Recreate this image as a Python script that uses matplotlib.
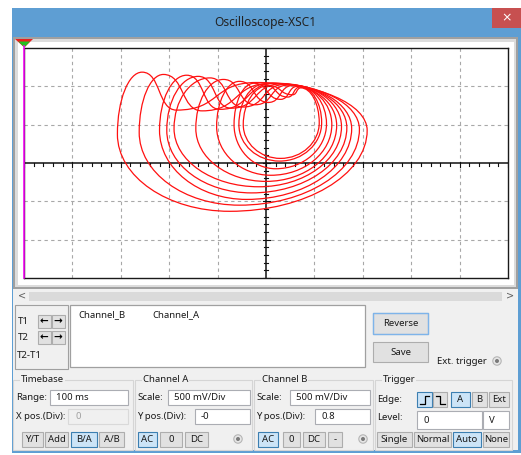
import numpy as np
import matplotlib
matplotlib.use("Agg")
import matplotlib.pyplot as plt
from matplotlib.patches import Rectangle, Polygon, Circle, PathPatch
from matplotlib.path import Path

plt.rcParams['font.family'] = ['Noto Sans', 'DejaVu Sans']

# ---- B/A trace: one row per loop of the phase portrait (units: divisions) ----
left_x   = [-3.07, -2.62, -2.20, -2.05, -1.90, -1.45, -1.02, -0.66, -0.56, -0.47]
left_y   = [0.75, 0.80, 0.85, 0.85, 0.90, 0.90, 0.95, 1.00, 1.00, 1.00]
hump_x   = [-2.56, -2.12, -1.64, -1.40, -1.16, -0.88, -0.55, -0.25, -0.05, 0.05]
hump_y   = [2.37, 2.31, 2.29, 2.26, 2.22, 2.18, 2.13, 2.08, 2.05, 2.02]
dip_x    = [-1.85, -1.32, -0.95, -0.72, -0.48, -0.22, 0.05, 0.30, 0.45, 0.55]
dip_y    = [1.38, 1.36, 1.40, 1.43, 1.46, 1.52, 1.58, 1.66, 1.72, 1.78]
top_x    = [-0.20, 0.10, 0.20, 0.30, 0.40, 0.45, 0.55, 0.65, 0.70, 0.72]
top_y    = [2.10, 2.08, 2.08, 2.06, 2.05, 2.03, 2.02, 2.00, 1.98, 1.96]
right_x  = [2.09, 1.93, 1.77, 1.67, 1.56, 1.46, 1.36, 1.25, 1.15, 1.10]
right_y  = [0.85, 0.88, 0.90, 0.92, 0.95, 0.98, 1.00, 1.02, 1.05, 1.05]
bottom_x = [-0.75, -0.55, -0.40, -0.30, -0.15, 0.00, 0.10, 0.20, 0.28, 0.30]
bottom_y = [-1.26, -1.10, -0.95, -0.78, -0.62, -0.48, -0.32, -0.15, 0.05, 0.12]

# ---- panel texts ----
title_text = "Oscilloscope-XSC1"
readout_cols = ["Channel_B", "Channel_A"]
timebase_range = "100 ms"
timebase_xpos = "0"
cha_scale, cha_ypos = "500 mV/Div", "-0"
chb_scale, chb_ypos = "500 mV/Div", "0.8"
trig_level, trig_unit = "0", "V"

W, H = 521, 455
fig = plt.figure(figsize=(W / 100, H / 100), dpi=100)
fig.patch.set_facecolor("white")

ui = fig.add_axes([0, 0, 1, 1])
ui.set_xlim(0, W)
ui.set_ylim(H, 0)
ui.axis("off")

FS = 6.9
BLUE = "#5E9ED3"
PANEL = "#F0F0F0"


def rect(x0, y0, x1, y1, fc="none", ec="none", lw=1.0, z=1):
    ui.add_patch(Rectangle((x0, y0), x1 - x0, y1 - y0, fc=fc, ec=ec, lw=lw, zorder=z))


def text(x, y, s, size=FS, color="#1A1A1A", ha="left", **kw):
    ui.text(x, y, s, fontsize=size, color=color, ha=ha, va="center", zorder=6, **kw)


def button(x0, y0, x1, y1, label, active=False, size=FS):
    fc = "#CCE4F7" if active else "#E1E1E1"
    ec = "#3C7FB1" if active else "#ADADAD"
    rect(x0, y0, x1, y1, fc=fc, ec=ec, lw=0.8, z=3)
    if label:
        text((x0 + x1) / 2, (y0 + y1) / 2 + 0.5, label, size=size, ha="center")


def textbox(x0, y0, x1, y1, s, disabled=False, pad=6):
    rect(x0, y0, x1, y1, fc=PANEL if disabled else "white",
         ec="#D9D9D9" if disabled else "#ABADB3", lw=0.8, z=3)
    text(x0 + pad, (y0 + y1) / 2 + 0.5, s, color="#A0A0A0" if disabled else "#1A1A1A")


def groupbox(x0, y0, x1, y1, label):
    rect(x0, y0, x1, y1, ec="#D5D5D5", lw=0.8, z=2)
    ui.text(x0 + 8, y0, label, fontsize=FS, color="#1A1A1A", va="center", ha="left",
            zorder=6, bbox=dict(fc=PANEL, ec="none", pad=0.6))


def radio(x, y):
    ui.add_patch(Circle((x, y), 4.2, fc="#E6E6E6", ec="#B5B5B5", lw=0.8, zorder=4))
    ui.add_patch(Circle((x, y), 2.0, fc="#7A7A7A", ec="none", zorder=5))


# window frame and title bar
rect(12, 8, W, 453, fc=BLUE)
rect(492, 8, W, 28, fc="#C75050", z=2)
text(506.5, 17.5, "\u00d7", size=9, color="white", ha="center", family="DejaVu Sans")
text(265, 22.5, title_text, size=8.6, color="#222222", ha="center")
rect(13, 37, 518, 450, fc=PANEL, z=1)

# sunken screen
rect(13, 37, 518, 289, fc="#A0A0A0", z=1.2)
rect(15, 39, 516, 287, fc="#DCDCDC", z=1.3)
rect(18, 42, 514, 285, fc="white", z=1.4)

# horizontal scroll bar
rect(16, 290, 516, 302, fc=PANEL, z=1.5)
rect(29, 291.5, 502, 301, fc="#DADADA", z=1.6)
text(22, 296, "<", size=7, color="#606060", ha="center", family="DejaVu Sans")
text(510, 296, ">", size=7, color="#606060", ha="center", family="DejaVu Sans")

# cursor panel
rect(15, 305, 68, 369, fc=PANEL, ec="#A0A0A0", lw=0.8, z=2)
text(18, 321, "T1")
text(18, 337, "T2")
text(17, 356, "T2-T1")
for yy in (321, 337):
    button(37.5, yy - 6.5, 50.5, yy + 6.5, "")
    button(51.5, yy - 6.5, 64.5, yy + 6.5, "")
    text(44, yy, "\u2190", size=7.5, color="black", ha="center", family="DejaVu Sans", weight="bold")
    text(58, yy, "\u2192", size=7.5, color="black", ha="center", family="DejaVu Sans", weight="bold")

# readout table
rect(70, 305, 365, 367, fc="white", ec="#A0A0A0", lw=0.9, z=2)
text(78, 315, readout_cols[0])
text(152, 315, readout_cols[1])

button(373, 313, 428, 334, "Reverse")
ui.add_patch(Rectangle((373, 313), 55, 21, fc="none", ec="#7EB4EA", lw=1.0, zorder=4))
button(373, 342, 428, 362, "Save")
text(437, 361, "Ext. trigger")
radio(497, 361)

# Timebase
groupbox(13, 380, 133, 450, "Timebase")
text(16, 397.5, "Range:")
textbox(50, 390, 128, 405, timebase_range)
text(16, 416.5, "X pos.(Div):")
textbox(68, 408.5, 128, 424, timebase_xpos, disabled=True, pad=8)
button(22, 432, 43, 447, "Y/T")
button(45, 432, 68, 447, "Add")
button(71, 432, 97, 447, "B/A", active=True)
button(99, 432, 124, 447, "A/B")

# Channel A
groupbox(135, 380, 252, 450, "Channel A")
text(137, 397.5, "Scale:")
textbox(168, 390, 250, 405, cha_scale)
text(137, 416.5, "Y pos.(Div):")
textbox(195, 408.5, 250, 424, cha_ypos)
button(138, 432, 157, 447, "AC", active=True)
button(160, 432, 182, 447, "0")
button(185, 432, 208, 447, "DC")
radio(238, 439)

# Channel B
groupbox(254, 380, 373, 450, "Channel B")
text(256, 397.5, "Scale:")
textbox(290, 390, 370, 405, chb_scale)
text(256, 416.5, "Y pos.(Div):")
textbox(315, 408.5, 370, 424, chb_ypos)
button(258, 432, 278, 447, "AC", active=True)
button(283, 432, 300, 447, "0")
button(303, 432, 325, 447, "DC")
button(328, 432, 342, 447, "-")
radio(363, 439)

# Trigger
groupbox(375, 380, 512, 450, "Trigger")
text(377, 399, "Edge:")
button(417, 392, 432, 407, "", active=True)
ui.plot([420, 424.5, 424.5, 429], [403.5, 403.5, 395.5, 395.5], color="black", lw=0.9, zorder=6)
button(433, 392, 447, 407, "")
ui.plot([436, 440, 440, 444.5], [395.5, 395.5, 403.5, 403.5], color="black", lw=0.9, zorder=6)
button(451, 392, 470, 407, "A", active=True)
button(472, 392, 487, 407, "B")
button(489, 392, 509, 407, "Ext")
text(377, 418, "Level:")
textbox(417, 411, 482, 429, trig_level)
textbox(483, 411, 509, 429, "")
text(489, 420.5, trig_unit)
button(377, 432, 412, 447, "Single")
button(414, 432, 451, 447, "Normal")
button(453, 432, 481, 447, "Auto", active=True)
button(483, 432, 509, 447, "None")

# ---- oscilloscope graticule ----
PX0, PY0, PX1, PY1 = 24, 48, 508, 278
ax = fig.add_axes([PX0 / W, 1 - PY1 / H, (PX1 - PX0) / W, (PY1 - PY0) / H])
ax.set_xlim(-5, 5)
ax.set_ylim(-3, 3)
ax.set_facecolor("white")
ax.set_xticks([])
ax.set_yticks([])
for s in ax.spines.values():
    s.set_color("#1A1A1A")
    s.set_linewidth(1.0)

dxp = 10 / (PX1 - PX0)   # divisions per pixel, horizontal
dyp = 6 / (PY1 - PY0)    # divisions per pixel, vertical

for gx in range(-4, 5):
    if gx != 0:
        ax.axvline(gx, color="#A8A8A8", lw=0.8, ls=(0, (3, 3)), zorder=1)
for gy in range(-2, 3):
    if gy != 0:
        ax.axhline(gy, color="#A8A8A8", lw=0.8, ls=(0, (3, 3)), zorder=1)
ax.axhline(0, color="#111111", lw=1.1, zorder=2)
ax.axvline(0, color="#111111", lw=1.1, zorder=2)
for tx in np.arange(-5, 5.001, 0.2):
    major = abs(tx - round(tx)) < 1e-6
    ax.plot([tx, tx], [(-3.5 if major else -2.5) * dyp, (1.5 if major else 0.5) * dyp],
            color="#111111", lw=0.8, zorder=2)
for ty in np.arange(-3, 3.001, 0.2):
    major = abs(ty - round(ty)) < 1e-6
    hl = 3.5 if major else 2.0
    ax.plot([-hl * dxp, hl * dxp], [ty, ty], color="#111111", lw=0.8, zorder=2)

# trace loops drawn as cubic Bezier paths through the key points
K = 0.552
tangents = [(0, 1), (1, 0), (1, 0), (1, 0), (0, -1), (-1, 0)]
for i in range(len(left_x)):
    pts = [(left_x[i], left_y[i]), (hump_x[i], hump_y[i]), (dip_x[i], dip_y[i]),
           (top_x[i], top_y[i]), (right_x[i], right_y[i]), (bottom_x[i], bottom_y[i])]
    verts = [pts[0]]
    codes = [Path.MOVETO]
    n = len(pts)
    for k in range(n):
        A, B = pts[k], pts[(k + 1) % n]
        tA, tB = tangents[k], tangents[(k + 1) % n]
        d = (B[0] - A[0], B[1] - A[1])
        la = K * abs(d[0] * tA[0] + d[1] * tA[1])
        lb = K * abs(d[0] * tB[0] + d[1] * tB[1])
        verts += [(A[0] + tA[0] * la, A[1] + tA[1] * la),
                  (B[0] - tB[0] * lb, B[1] - tB[1] * lb), B]
        codes += [Path.CURVE4] * 3
    ax.add_patch(PathPatch(Path(verts, codes), fc="none", ec="#FF1010", lw=0.9, zorder=3))

ui.set_zorder(0)
ax.set_zorder(1)

# cursor T1 on the left edge and its marker, above the screen
top = fig.add_axes([0, 0, 1, 1])
top.set_xlim(0, W)
top.set_ylim(H, 0)
top.axis("off")
top.set_zorder(2)
top.plot([24.3, 24.3], [46, 278], color="#FF00FF", lw=1.1)
top.add_patch(Polygon([(15, 39), (33, 39), (24.3, 47.5)], closed=True, fc="#E8201E", ec="none"))
top.add_patch(Polygon([(18.5, 41.5), (30, 41.5), (24.3, 47.5)], closed=True, fc="#22C022", ec="none"))

fig.savefig("out.png", dpi=100, facecolor="white")
